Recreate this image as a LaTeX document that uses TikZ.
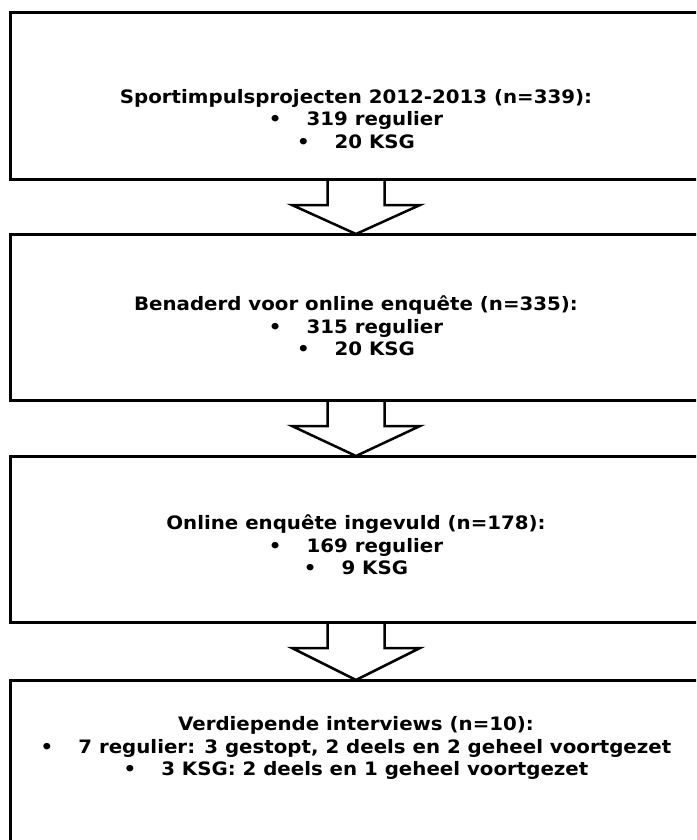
\documentclass[tikz,border=0pt]{standalone}
\usepackage{fontspec}
\setmainfont[FakeStretch=1.07]{DejaVu Sans}
\usetikzlibrary{calc}

\tikzset{
  box/.style={draw, rectangle, line width=3pt, minimum width=692pt, minimum height=166pt,
    inner sep=0pt, outer sep=0pt},
  txt/.style={align=center, inner sep=0pt, font=\bfseries\fontsize{18.5}{22.5}\selectfont},
  blockarrow/.style={draw, line width=2.5pt, line join=miter}
}
\newcommand{\bul}{\textbullet\hspace{25pt}}
% open block arrow from the bottom of one box to the top of the next
\newcommand{\flowarrow}[2]{%
  \draw[blockarrow] ($(#1.south)+(-28.5,0)$) -- ++(0,-26) -- ++(-35.5,0) -- (#2.north)
    -- ($(#1.south)+(64,-26)$) -- ++(-35.5,0) -- ++(0,26);}

\begin{document}
\begin{tikzpicture}[x=1pt, y=1pt]
    \useasboundingbox (0,0) rectangle (696,-840);
    \clip (0,0) rectangle (696,-840);

        \node[box] (b1) at (356,-96) {};
        \node[box] (b2) at (356,-317) {};
        \node[box] (b3) at (356,-539) {};
        \node[box] (b4) at (356,-763) {};

        \node[txt] (t1) at (356,-119) {Sportimpulsprojecten 2012-2013 (n=339):\\ \bul 319 regulier\\ \bul 20 KSG};
        \node[txt] (t2) at (356,-326) {Benaderd voor online enquête (n=335):\\ \bul 315 regulier\\ \bul 20 KSG};
        \node[txt] (t3) at (356,-545) {Online enquête ingevuld (n=178):\\ \bul 169 regulier\\ \bul 9 KSG};
        \node[txt] (t4) at (356,-748) {Verdiepende interviews (n=10):\\ \bul 7 regulier: 3 gestopt, 2 deels en 2 geheel voortgezet\\ \bul 3 KSG: 2 deels en 1 geheel voortgezet};

        \flowarrow{b1}{b2}
        \flowarrow{b2}{b3}
        \flowarrow{b3}{b4}

    \end{tikzpicture}
\end{document}
